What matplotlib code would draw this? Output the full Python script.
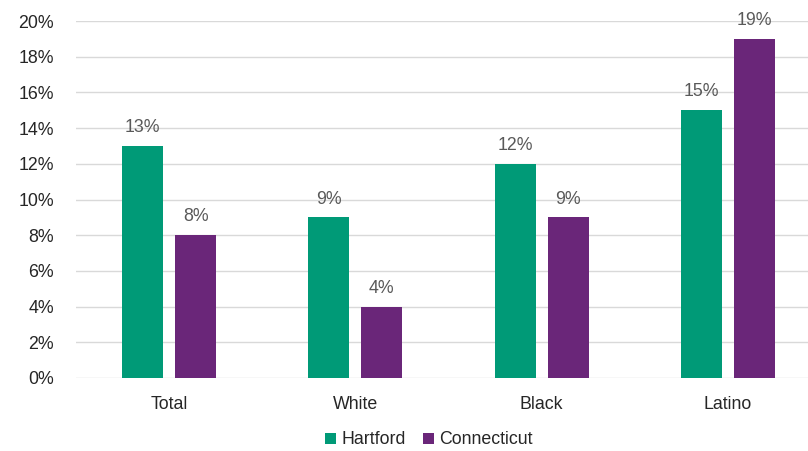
import matplotlib
matplotlib.use("Agg")
import matplotlib.pyplot as plt
import numpy as np

categories = ["Total", "White", "Black", "Latino"]
hartford = [13, 9, 12, 15]
connecticut = [8, 4, 9, 19]
series_names = ["Hartford", "Connecticut"]
yticks = [0, 2, 4, 6, 8, 10, 12, 14, 16, 18, 20]

green = "#009a77"
purple = "#6a2679"

plt.rcParams["font.family"] = ["Liberation Sans", "DejaVu Sans"]

W, H = 808, 451
fig = plt.figure(figsize=(W / 100, H / 100), dpi=100)
left, right = 76, 821
bottom, top = 378, 21
ax = fig.add_axes([left / W, 1 - bottom / H, (right - left) / W, (bottom - top) / H])

x = np.arange(len(categories))
bw = 0.22
off = 0.142
b1 = ax.bar(x - off, hartford, bw, color=green, label=series_names[0], zorder=3)
b2 = ax.bar(x + off, connecticut, bw, color=purple, label=series_names[1], zorder=3)

fs = 12.8
for bars, vals in ((b1, hartford), (b2, connecticut)):
    for rect, v in zip(bars, vals):
        ax.text(rect.get_x() + rect.get_width() / 2, v + 0.55, f"{v}%",
                ha="center", va="bottom", fontsize=fs, color="#595959")

ax.set_xlim(-0.5, len(categories) - 0.5)
ax.set_ylim(0, 20)
ax.set_yticks(yticks)
ax.set_yticklabels([f"{t}%" for t in yticks])
ax.set_xticks(x)
ax.set_xticklabels(categories)
ax.tick_params(axis="both", length=0, labelsize=fs, colors="#262626")
ax.tick_params(axis="y", pad=16)
ax.tick_params(axis="x", pad=13)
ax.grid(axis="y", color="#d9d9d9", linewidth=1, zorder=0)
for s in ax.spines.values():
    s.set_visible(False)

fig.legend(handles=[b1, b2], labels=series_names, loc="center",
           bbox_to_anchor=(429 / W, 1 - 440 / H), ncol=2, frameon=False,
           fontsize=fs, handlelength=0.6, handleheight=0.6, handletextpad=0.3,
           columnspacing=1.0, labelcolor="#262626")

fig.savefig("out.png", dpi=100)
